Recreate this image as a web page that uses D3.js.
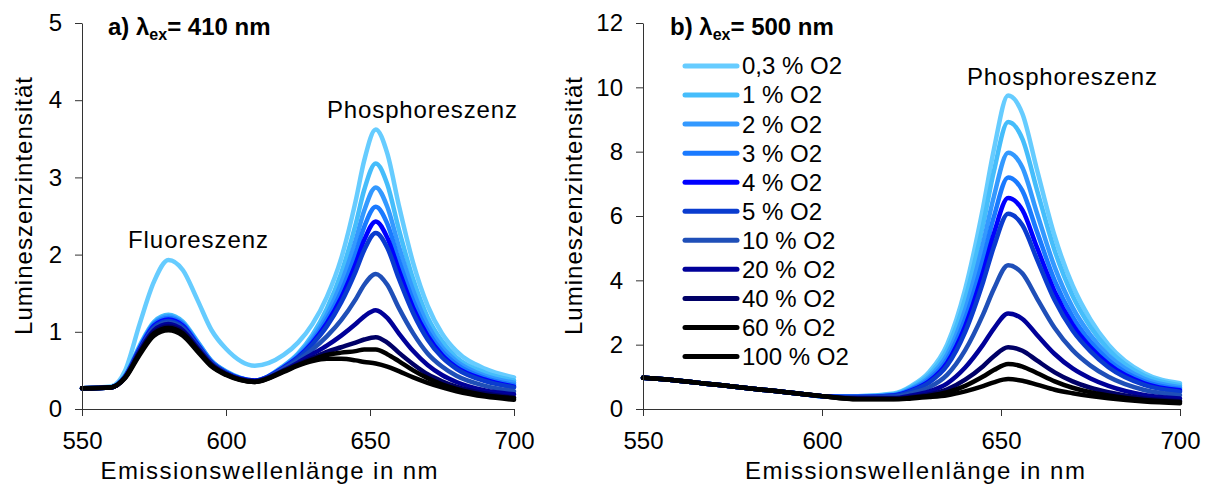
<!DOCTYPE html>
<html>
<head>
<meta charset="utf-8">
<script src="https://cdn.jsdelivr.net/npm/d3@7"></script>
<style>
  html, body { margin: 0; padding: 0; background: #fff; }
  svg { display: block; font-family: "Liberation Sans", Arial, sans-serif; }
</style>
</head>
<body>
<svg id="chart" width="1215" height="488"></svg>
<script>
// emission wavelengths (nm) shared by every spectrum
const wavelength = [550, 560, 565, 570, 575, 580, 585, 590, 595, 600, 610, 620, 625, 630, 635, 640, 645, 648, 652, 656, 660, 665, 670, 675, 680, 690, 700]
const xTicks = [550, 600, 650, 700]
const leftYTicks = [0, 1, 2, 3, 4, 5]
const rightYTicks = [0, 2, 4, 6, 8, 10, 12]
const oxygen = ['0,3 % O2', '1 % O2', '2 % O2', '3 % O2', '4 % O2', '5 % O2', '10 % O2', '20 % O2', '40 % O2', '60 % O2', '100 % O2']
const colors = ['#66ccff', '#45bdfb', '#3399ff', '#1a7aff', '#0000ff', '#0a3ccf', '#1f4fb8', '#000099', '#000066', '#000000', '#000000']

// a) excitation 410 nm
const ex410_o03 = [0.27, 0.29, 0.5, 1.1, 1.65, 1.93, 1.8, 1.42, 1.02, 0.78, 0.56, 0.7, 0.86, 1.1, 1.45, 1.95, 2.69, 3.22, 3.62, 3.31, 2.64, 1.89, 1.34, 0.98, 0.75, 0.52, 0.41]
const ex410_o1 = [0.27, 0.28, 0.43, 0.82, 1.13, 1.22, 1.13, 0.88, 0.62, 0.49, 0.37, 0.56, 0.72, 0.96, 1.3, 1.76, 2.39, 2.84, 3.18, 2.91, 2.33, 1.68, 1.19, 0.88, 0.67, 0.47, 0.37]
const ex410_o2 = [0.27, 0.28, 0.43, 0.8, 1.11, 1.2, 1.11, 0.87, 0.62, 0.48, 0.37, 0.55, 0.7, 0.92, 1.22, 1.63, 2.18, 2.57, 2.87, 2.62, 2.11, 1.53, 1.09, 0.8, 0.62, 0.43, 0.34]
const ex410_o3 = [0.27, 0.28, 0.43, 0.79, 1.1, 1.18, 1.1, 0.85, 0.61, 0.48, 0.37, 0.54, 0.68, 0.88, 1.16, 1.52, 2.01, 2.36, 2.62, 2.4, 1.93, 1.4, 1.01, 0.75, 0.58, 0.4, 0.31]
const ex410_o4 = [0.27, 0.28, 0.42, 0.78, 1.08, 1.16, 1.08, 0.84, 0.6, 0.47, 0.37, 0.54, 0.67, 0.86, 1.11, 1.44, 1.88, 2.19, 2.43, 2.22, 1.8, 1.31, 0.95, 0.7, 0.54, 0.38, 0.29]
const ex410_o5 = [0.27, 0.28, 0.42, 0.77, 1.06, 1.14, 1.06, 0.83, 0.6, 0.47, 0.36, 0.53, 0.66, 0.84, 1.07, 1.38, 1.78, 2.06, 2.28, 2.09, 1.69, 1.24, 0.9, 0.67, 0.52, 0.36, 0.28]
const ex410_o10 = [0.27, 0.28, 0.42, 0.76, 1.04, 1.12, 1.04, 0.81, 0.59, 0.46, 0.36, 0.52, 0.63, 0.77, 0.94, 1.15, 1.42, 1.61, 1.75, 1.61, 1.31, 0.98, 0.72, 0.55, 0.43, 0.3, 0.23]
const ex410_o20 = [0.27, 0.28, 0.41, 0.75, 1.02, 1.1, 1.02, 0.8, 0.58, 0.46, 0.36, 0.5, 0.6, 0.71, 0.82, 0.95, 1.1, 1.2, 1.28, 1.18, 0.98, 0.75, 0.57, 0.44, 0.35, 0.24, 0.19]
const ex410_o40 = [0.27, 0.28, 0.41, 0.73, 1.0, 1.07, 1.0, 0.78, 0.57, 0.45, 0.36, 0.49, 0.58, 0.66, 0.74, 0.8, 0.86, 0.9, 0.93, 0.86, 0.73, 0.58, 0.45, 0.36, 0.29, 0.2, 0.15]
const ex410_o60 = [0.27, 0.28, 0.41, 0.72, 0.98, 1.05, 0.98, 0.77, 0.56, 0.45, 0.35, 0.49, 0.57, 0.64, 0.7, 0.73, 0.75, 0.77, 0.77, 0.71, 0.62, 0.5, 0.4, 0.32, 0.26, 0.18, 0.14]
const ex410_o100 = [0.27, 0.28, 0.4, 0.7, 0.95, 1.02, 0.95, 0.75, 0.55, 0.44, 0.35, 0.48, 0.56, 0.62, 0.65, 0.65, 0.63, 0.61, 0.59, 0.55, 0.49, 0.41, 0.34, 0.28, 0.23, 0.16, 0.12]

// b) excitation 500 nm
const ex500_o03 = [0.97, 0.88, 0.82, 0.76, 0.7, 0.64, 0.58, 0.52, 0.46, 0.4, 0.4, 0.48, 0.72, 1.16, 2.02, 3.73, 6.27, 8.06, 9.75, 9.17, 7.46, 5.37, 3.84, 2.78, 2.0, 1.11, 0.8]
const ex500_o1 = [0.97, 0.88, 0.82, 0.76, 0.7, 0.64, 0.58, 0.52, 0.46, 0.4, 0.4, 0.46, 0.69, 1.08, 1.87, 3.43, 5.74, 7.38, 8.92, 8.39, 6.83, 4.92, 3.52, 2.55, 1.85, 1.03, 0.74]
const ex500_o2 = [0.97, 0.88, 0.82, 0.76, 0.7, 0.64, 0.58, 0.52, 0.46, 0.4, 0.39, 0.44, 0.64, 1.0, 1.7, 3.09, 5.15, 6.6, 7.97, 7.5, 6.11, 4.41, 3.16, 2.3, 1.67, 0.94, 0.68]
const ex500_o3 = [0.97, 0.88, 0.82, 0.76, 0.7, 0.64, 0.58, 0.52, 0.46, 0.4, 0.38, 0.43, 0.61, 0.93, 1.56, 2.81, 4.66, 5.97, 7.2, 6.78, 5.53, 3.99, 2.87, 2.09, 1.52, 0.86, 0.62]
const ex500_o4 = [0.97, 0.88, 0.82, 0.76, 0.7, 0.64, 0.58, 0.52, 0.46, 0.4, 0.37, 0.42, 0.58, 0.87, 1.45, 2.58, 4.26, 5.45, 6.56, 6.18, 5.04, 3.65, 2.63, 1.92, 1.4, 0.8, 0.58]
const ex500_o5 = [0.97, 0.88, 0.82, 0.76, 0.7, 0.64, 0.58, 0.52, 0.46, 0.4, 0.37, 0.41, 0.56, 0.83, 1.36, 2.4, 3.95, 5.04, 6.07, 5.71, 4.67, 3.38, 2.44, 1.79, 1.3, 0.75, 0.54]
const ex500_o10 = [0.97, 0.88, 0.82, 0.76, 0.7, 0.64, 0.58, 0.52, 0.46, 0.4, 0.35, 0.37, 0.49, 0.68, 1.07, 1.83, 2.94, 3.73, 4.47, 4.21, 3.45, 2.52, 1.83, 1.35, 1.0, 0.59, 0.43]
const ex500_o20 = [0.97, 0.88, 0.82, 0.76, 0.7, 0.64, 0.58, 0.52, 0.46, 0.4, 0.34, 0.34, 0.42, 0.55, 0.8, 1.29, 2.0, 2.5, 2.97, 2.8, 2.31, 1.71, 1.26, 0.95, 0.72, 0.44, 0.33]
const ex500_o40 = [0.97, 0.88, 0.82, 0.76, 0.7, 0.64, 0.58, 0.52, 0.46, 0.4, 0.32, 0.32, 0.37, 0.45, 0.61, 0.91, 1.33, 1.64, 1.92, 1.81, 1.51, 1.14, 0.86, 0.66, 0.52, 0.33, 0.25]
const ex500_o60 = [0.97, 0.88, 0.82, 0.76, 0.7, 0.64, 0.58, 0.52, 0.46, 0.4, 0.31, 0.31, 0.35, 0.41, 0.52, 0.72, 1.01, 1.21, 1.4, 1.32, 1.12, 0.86, 0.66, 0.52, 0.42, 0.28, 0.22]
const ex500_o100 = [0.97, 0.88, 0.82, 0.76, 0.7, 0.64, 0.58, 0.52, 0.46, 0.4, 0.3, 0.3, 0.33, 0.37, 0.43, 0.55, 0.71, 0.83, 0.93, 0.88, 0.76, 0.6, 0.49, 0.4, 0.33, 0.23, 0.18]

const ex410 = [ex410_o03, ex410_o1, ex410_o2, ex410_o3, ex410_o4, ex410_o5, ex410_o10, ex410_o20, ex410_o40, ex410_o60, ex410_o100]
const ex500 = [ex500_o03, ex500_o1, ex500_o2, ex500_o3, ex500_o4, ex500_o5, ex500_o10, ex500_o20, ex500_o40, ex500_o60, ex500_o100]

const svg = d3.select('#chart')
const FONT = 24

function panel (series, yMax, yTicks, x0, x1) {
  const x = d3.scaleLinear().domain([550, 700]).range([x0, x1])
  const y = d3.scaleLinear().domain([0, yMax]).range([409, 23])
  const g = svg.append('g')

  const line = d3.line()
    .x((d, i) => x(wavelength[i]))
    .y(d => y(d))
    .curve(d3.curveMonotoneX)

  g.append('g')
    .attr('fill', 'none')
    .attr('stroke-width', 4.5)
    .attr('stroke-linejoin', 'round')
    .attr('stroke-linecap', 'round')
    .selectAll('path')
    .data(series)
    .join('path')
      .attr('stroke', (d, i) => colors[i])
      .attr('d', line)

  const xAxis = g.append('g')
    .attr('transform', `translate(0,${y(0)})`)
    .call(d3.axisBottom(x).tickValues(xTicks).tickSize(7).tickSizeOuter(0).tickPadding(16).tickFormat(d3.format('d')))
  const yAxis = g.append('g')
    .attr('transform', `translate(${x0},0)`)
    .call(d3.axisLeft(y).tickValues(yTicks).tickSize(7).tickSizeOuter(0).tickPadding(13).tickFormat(d3.format('d')))

  for (const a of [xAxis, yAxis]) {
    a.select('.domain').attr('stroke', '#333')
    a.selectAll('.tick line').attr('stroke', '#333')
    a.selectAll('.tick text')
      .attr('font-size', FONT)
      .attr('font-family', '"Liberation Sans", Arial, sans-serif')
      .attr('fill', '#000')
  }
  return { x, y, g }
}

function label (txt, x, y, opts = {}) {
  const t = svg.append('text')
    .attr('x', x).attr('y', y)
    .attr('font-size', opts.size || FONT)
    .attr('text-anchor', opts.anchor || 'middle')
    .attr('fill', '#000')
    .text(txt)
  if (opts.length) t.attr('textLength', opts.length).attr('lengthAdjust', 'spacing')
  if (opts.rotate) t.attr('transform', `rotate(-90,${x},${y})`)
  return t
}

function title (letter, nm, x) {
  const t = svg.append('text')
    .attr('x', x).attr('y', 35)
    .attr('font-size', FONT)
    .attr('font-weight', 'bold')
  t.append('tspan').text(letter + ') \u03bb')
  t.append('tspan').attr('font-size', 16).attr('dy', 5).text('ex')
  t.append('tspan').attr('dy', -5).text('= ' + nm + ' nm')
}

const left = panel(ex410, 5, leftYTicks, 82, 514)
const right = panel(ex500, 12, rightYTicks, 643, 1180)

title('a', 410, 108)
title('b', 500, 670)

label('Fluoreszenz', 198, 248, { length: 140 })
label('Phosphoreszenz', 422, 118, { length: 190 })
label('Phosphoreszenz', 1062, 85, { length: 190 })

label('Emissionswellenlänge in nm', 269, 479, { length: 337 })
label('Emissionswellenlänge in nm', 915, 479, { length: 340 })
label('Lumineszenzintensität', 32, 206, { rotate: true, length: 258 })
label('Lumineszenzintensität', 582, 206, { rotate: true, length: 258 })

// legend (right panel)
const legend = svg.append('g')
  .selectAll('g')
  .data(oxygen)
  .join('g')
    .attr('transform', (d, i) => `translate(685,${66 + i * 29.05})`)
legend.append('line')
  .attr('x1', 0).attr('x2', 52)
  .attr('stroke', (d, i) => colors[i])
  .attr('stroke-width', 5)
  .attr('stroke-linecap', 'round')
legend.append('text')
  .attr('x', 57).attr('dy', '0.35em')
  .attr('font-size', FONT)
  .text(d => d)
</script>
</body>
</html>
